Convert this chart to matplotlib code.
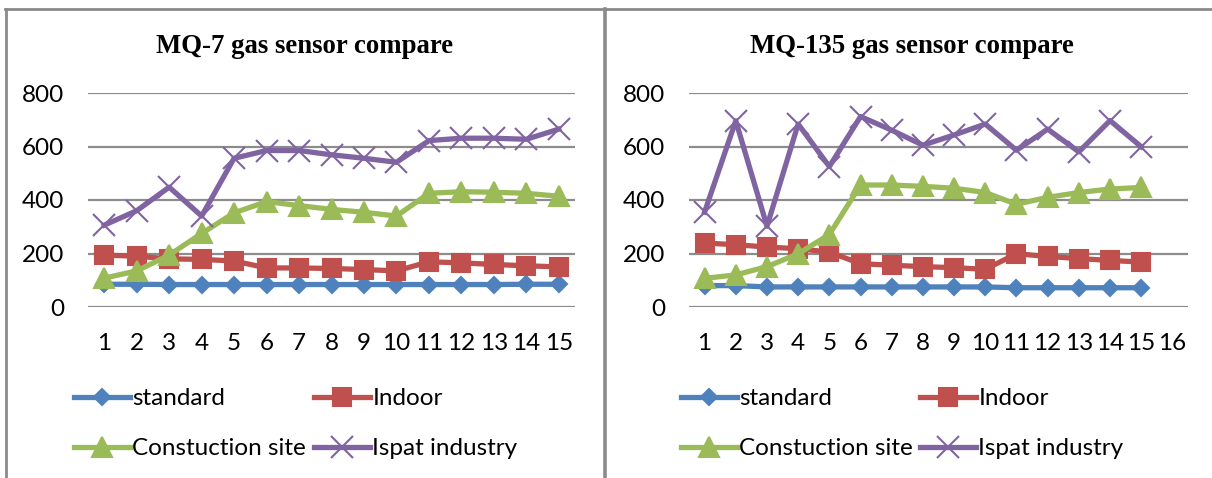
import matplotlib
matplotlib.use("Agg")
import matplotlib.pyplot as plt
from matplotlib.lines import Line2D

# readings per sample point
mq7_x = list(range(1, 16))
mq7_standard = [85, 85, 84, 84, 84, 84, 84, 84, 84, 84, 84, 84, 84, 85, 85]
mq7_indoor = [194, 190, 180, 178, 172, 146, 146, 144, 140, 135, 169, 165, 159, 154, 150]
mq7_construction = [108, 135, 194, 275, 352, 394, 379, 365, 354, 340, 425, 431, 429, 425, 414]
mq7_ispat = [306, 360, 448, 340, 556, 585, 585, 569, 556, 541, 622, 631, 631, 627, 665]

mq135_x = list(range(1, 16))
mq135_standard = [80, 80, 75, 75, 75, 75, 75, 75, 75, 75, 72, 72, 72, 72, 72]
mq135_indoor = [239, 233, 224, 218, 205, 162, 156, 151, 147, 141, 199, 189, 181, 174, 168]
mq135_construction = [107, 120, 151, 199, 271, 456, 456, 451, 444, 428, 384, 410, 428, 441, 447]
mq135_ispat = [355, 696, 302, 684, 525, 712, 661, 605, 643, 684, 586, 665, 580, 697, 599]

series_names = ["standard", "Indoor", "Constuction site", "Ispat industry"]
colors = ["#4F81BD", "#C0504D", "#9BBB59", "#8064A2"]
markers = ["D", "s", "^", "x"]
msizes = [8, 13, 15, 16]

W, H = 1212, 478
fig = plt.figure(figsize=(W / 100, H / 100), dpi=100)
plt.rcParams["font.family"] = ["Lato", "DejaVu Sans"]


def draw_panel(rect, x, series, title, title_x, ncat, leg_x):
    ax = fig.add_axes(rect)
    lines = []
    for vals, name, c, m, ms in zip(series, series_names, colors, markers, msizes):
        ln, = ax.plot(x, vals, color=c, lw=3.8, marker=m, markersize=ms,
                      markerfacecolor=c, markeredgecolor=c,
                      markeredgewidth=1.5, label=name, solid_joinstyle="round")
        lines.append(ln)
    ax.set_xlim(0.5, ncat + 0.5)
    ax.set_ylim(0, 800)
    ax.set_yticks([0, 200, 400, 600, 800])
    ax.set_xticks(range(1, ncat + 1))
    ax.grid(axis="y", color="#8c8c8c", lw=1.6)
    ax.set_axisbelow(True)
    for s in ax.spines.values():
        s.set_visible(False)
    ax.tick_params(length=0, labelsize=17.5, colors="black")
    ax.tick_params(axis="y", pad=17)
    ax.tick_params(axis="x", pad=19)

    fig.text(title_x / W, 1 - 53 / H, title, ha="center", va="baseline",
             family="Liberation Serif", fontweight="bold", fontsize=19.3)

    # legend laid out in two columns
    kw = dict(frameon=False, fontsize=17.5, handlelength=2.3, handletextpad=0.1,
              labelspacing=1.2, numpoints=1, borderpad=0, borderaxespad=0,
              loc="upper left", bbox_transform=fig.transFigure)
    leg1 = ax.legend([lines[0], lines[2]], [series_names[0], series_names[2]],
                     bbox_to_anchor=(leg_x[0] / W, 1 - 388 / H), **kw)
    ax.add_artist(leg1)
    ax.legend([lines[1], lines[3]], [series_names[1], series_names[3]],
              bbox_to_anchor=(leg_x[1] / W, 1 - 388 / H), **kw)
    return ax


draw_panel([88 / W, 1 - 307 / H, 487 / W, 214 / H], mq7_x,
           [mq7_standard, mq7_indoor, mq7_construction, mq7_ispat],
           "MQ-7 gas sensor compare", 305, 15, (74, 314))
draw_panel([689 / W, 1 - 307 / H, 499 / W, 214 / H], mq135_x,
           [mq135_standard, mq135_indoor, mq135_construction, mq135_ispat],
           "MQ-135 gas sensor compare", 912, 16, (681, 920))

# panel frame lines
frame = "#8a8a8a"
fig.add_artist(Line2D([5 / W, 1], [1 - 8.5 / H] * 2, color=frame, lw=2))
fig.add_artist(Line2D([5.5 / W] * 2, [0, 1 - 8.5 / H], color=frame, lw=2))
fig.add_artist(Line2D([604.5 / W] * 2, [0, 1 - 8.5 / H], color=frame, lw=2.6))

fig.savefig("out.png", dpi=100)
